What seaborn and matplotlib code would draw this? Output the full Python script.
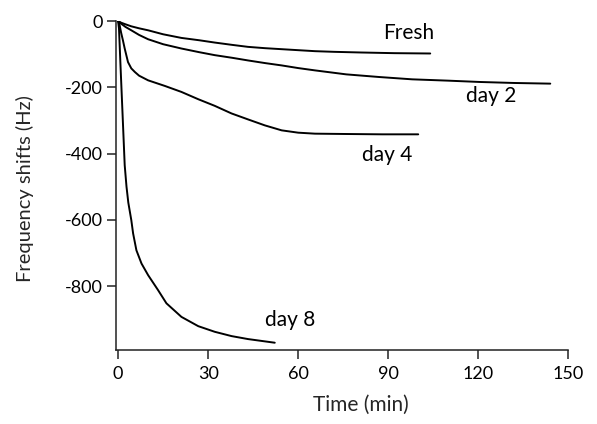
import numpy as np
import pandas as pd
import matplotlib
matplotlib.use("Agg")
import matplotlib.pyplot as plt
import seaborn as sns

# ---- data ----
fresh_t = [0, 1, 2.5, 4.4, 7, 10, 15, 21.1, 27, 32.2, 38, 43.3, 49, 54.5, 60, 65.6, 72, 81, 92, 104]
fresh_v = [0, -5, -10, -16, -22, -28, -40, -51, -58, -65, -72, -78, -82, -85, -88, -91, -93, -95, -97, -98]

day2_t = [0, 1, 2.5, 4.4, 7, 10, 15, 21.1, 27, 32.2, 38, 43.3, 49, 54.5, 60, 65.6, 76, 87, 98, 110, 120.6, 132, 144]
day2_v = [0, -8, -18, -28, -42, -55, -70, -83, -94, -103, -111, -119, -127, -134, -142, -149, -161, -169, -176, -180, -184, -187, -189]

day4_t = [0, 0.5, 1, 1.6, 2.2, 3.3, 4.4, 5.6, 7, 10, 15.6, 21.1, 26.7, 32.2, 37.8, 43.3, 48.9, 54.5, 60, 65.6, 76, 88, 100]
day4_v = [0, -12, -35, -58, -83, -124, -143, -154, -165, -179, -196, -214, -236, -256, -279, -297, -315, -330, -337, -340, -341, -342, -342]

day8_t = [0, 0.3, 0.8, 1.5, 2.2, 2.8, 3.4, 4.4, 5.0, 6.1, 7.8, 10, 13.3, 16.1, 21.1, 26.7, 32.2, 37.8, 43.3, 52.2]
day8_v = [0, -23, -134, -284, -435, -500, -548, -601, -641, -692, -732, -767, -812, -852, -893, -921, -938, -951, -960, -971]

series_names = ["Fresh", "day 2", "day 4", "day 8"]
label_x = [96.9, 124.2, 89.6, 57.2]
label_y = [-37, -227, -405, -903]

x_ticks = [0, 30, 60, 90, 120, 150]
y_ticks = [0, -200, -400, -600, -800]

# ---- build table ----
frames = []
for name, t, v in zip(series_names,
                      [fresh_t, day2_t, day4_t, day8_t],
                      [fresh_v, day2_v, day4_v, day8_v]):
    frames.append(pd.DataFrame({"time": t, "shift": v, "sample": name}))
df = pd.concat(frames, ignore_index=True)

sns.set_theme(style="ticks")
plt.rcParams["font.family"] = ["Lato", "DejaVu Sans"]

fig = plt.figure(figsize=(5.97, 4.24), dpi=100)
ax = fig.add_axes([0.1943, 0.1745, 0.7576, 0.7767])

sns.lineplot(data=df, x="time", y="shift", hue="sample",
             palette=["black"] * 4, estimator=None, sort=False,
             linewidth=1.4, legend=False, ax=ax)

for name, lx, ly in zip(series_names, label_x, label_y):
    ax.text(lx, ly, name, ha="center", va="center", fontsize=15, color="black")

ax.set_xlim(-0.7, 150)
ax.set_ylim(-993, 1)
ax.set_xticks(x_ticks)
ax.set_yticks(y_ticks)
ax.set_xticklabels([str(v) for v in x_ticks])
ax.set_yticklabels([str(v) for v in y_ticks])
ax.set_xlabel("Time (min)", fontsize=15)
ax.set_ylabel("Frequency shifts (Hz)", fontsize=14.5)
ax.xaxis.set_label_coords(0.542, -0.135)
ax.yaxis.set_label_coords(-0.182, 0.49)

for s in ["top", "right"]:
    ax.spines[s].set_visible(False)
for s in ["left", "bottom"]:
    ax.spines[s].set_linewidth(1.1)
    ax.spines[s].set_color("#222222")
ax.tick_params(axis="both", direction="out", length=6.5, width=1.1,
               colors="#222222", labelsize=13, labelcolor="black")
ax.tick_params(axis="x", pad=5)
ax.tick_params(axis="y", pad=3)

fig.savefig("out.png", dpi=100, facecolor="white")
